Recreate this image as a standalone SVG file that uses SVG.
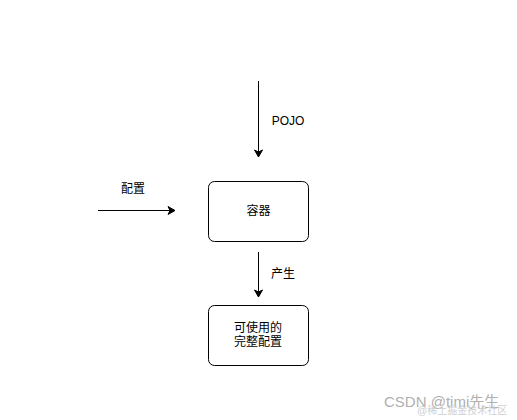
<svg xmlns="http://www.w3.org/2000/svg" width="517" height="420" viewBox="0 0 517 420">
<defs>
<marker id="arr" markerWidth="10" markerHeight="10" refX="8" refY="5" orient="auto" markerUnits="userSpaceOnUse">
<path d="M1,1 L8,5 L1,9 L3,5 Z" fill="#000" stroke="#000" stroke-width="1"/>
</marker>
</defs>
<style>
text{font-family:"Liberation Sans","Noto Sans CJK SC",sans-serif;font-size:12px;fill:#000}
.box{fill:#fff;stroke:#000;stroke-width:1}
.edge{stroke:#000;stroke-width:1;fill:none}
.mid{text-anchor:middle;dominant-baseline:central}
</style>
<rect width="517" height="420" fill="#fff"/>
<g id="connectors">
<line class="edge" x1="258.5" y1="81" x2="258.5" y2="157" marker-end="url(#arr)"/>
<line class="edge" x1="98" y1="210.5" x2="175" y2="210.5" marker-end="url(#arr)"/>
<line class="edge" x1="258.5" y1="252" x2="258.5" y2="297" marker-end="url(#arr)"/>
<text class="mid" x="288" y="121">POJO</text>
<text class="mid" x="133" y="189">配置</text>
<text class="mid" x="283" y="274">产生</text>
</g>
<g id="container">
<rect class="box" x="208.5" y="181.5" width="100" height="60" rx="6"/>
<text class="mid" x="258.5" y="211">容器</text>
</g>
<g id="result">
<rect class="box" x="208.5" y="305.5" width="100" height="60" rx="6"/>
<text class="mid" x="258" y="328">可使用的</text>
<text class="mid" x="258" y="342">完整配置</text>
</g>
<g id="watermark">
<text x="384" y="407" style="font-size:15px;fill:#b0b0b0">CSDN @timi先生</text>
<text x="417" y="414" style="font-size:10px;fill:#d0d0d0">@稀土掘金技术社区</text>
</g>
</svg>
